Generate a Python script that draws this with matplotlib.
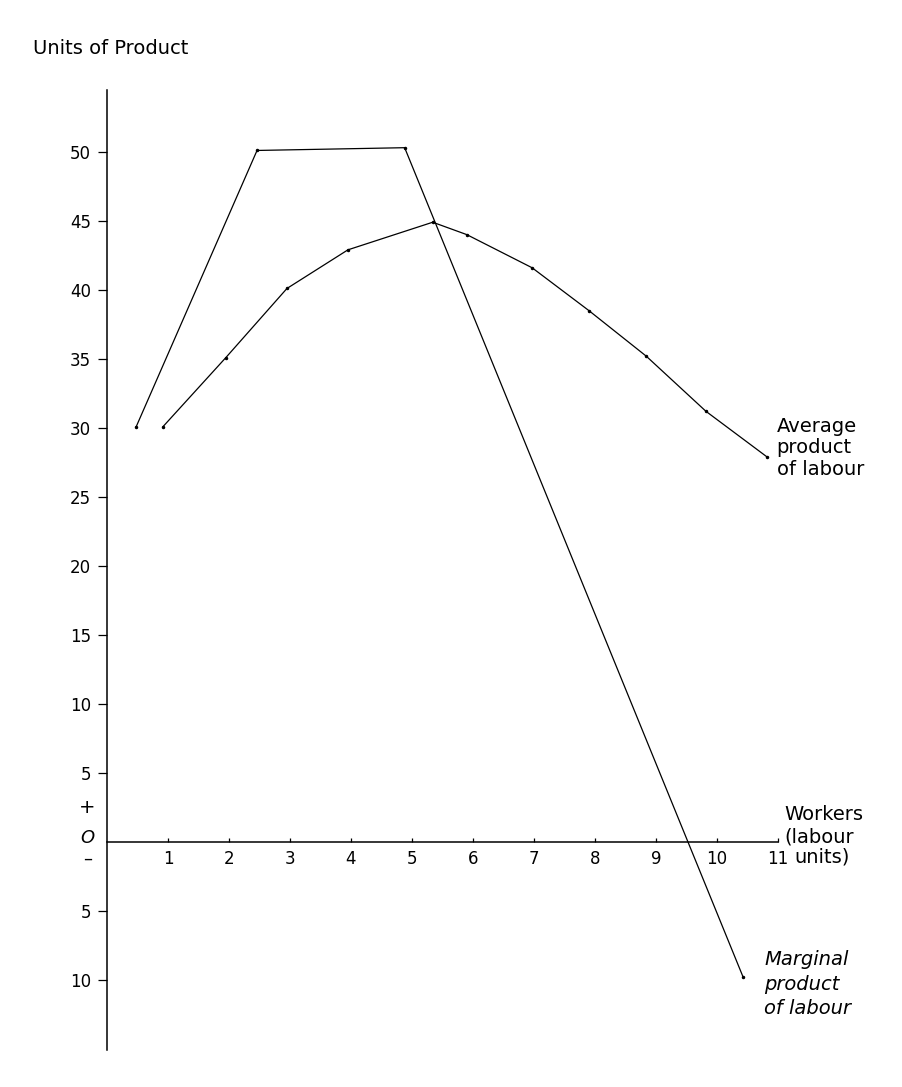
import matplotlib
matplotlib.use('Agg')
import matplotlib.pyplot as plt

# marginal product of labour (hand drawn kinks)
mp_x = [0.48, 2.46, 4.88, 10.43]
mp_y = [30.1, 50.1, 50.3, -9.8]

# average product of labour
ap_x = [0.92, 1.95, 2.95, 3.95, 5.34, 5.9, 6.97, 7.9, 8.84, 9.82, 10.82]
ap_y = [30.1, 35.1, 40.1, 42.9, 44.9, 44.0, 41.6, 38.5, 35.2, 31.2, 27.9]

x_ticks = [1, 2, 3, 4, 5, 6, 7, 8, 9, 10, 11]
y_ticks = [50, 45, 40, 35, 30, 25, 20, 15, 10, 5, -5, -10]
y_labels = ['50', '45', '40', '35', '30', '25', '20', '15', '10', '5', '5', '10']

plt.rcParams['font.family'] = ['DejaVu Sans']

fig = plt.figure(figsize=(9.03, 10.87), dpi=100)
ax = fig.add_axes([0, 0, 1, 1])
ax.set_xlim(-1.754, 13.05)
ax.set_ylim(-17.75, 61.0)

for s in ['top', 'right']:
    ax.spines[s].set_visible(False)
ax.spines['left'].set_position(('data', 0))
ax.spines['bottom'].set_position(('data', 0))
ax.spines['left'].set_bounds(-15.1, 54.5)
ax.spines['bottom'].set_bounds(0, 11)
ax.spines['left'].set_linewidth(1.1)
ax.spines['bottom'].set_linewidth(1.1)

ax.set_xticks(x_ticks)
ax.set_xticklabels([str(t) for t in x_ticks])
ax.set_yticks(y_ticks)
ax.set_yticklabels(y_labels)
ax.tick_params(axis='y', direction='out', length=6.5, width=0.9, pad=5, labelsize=12)
ax.tick_params(axis='x', direction='in', length=3, width=0.9, pad=6, labelsize=12)

ax.plot(mp_x, mp_y, color='black', lw=0.9, marker='.', markersize=3)
ax.plot(ap_x, ap_y, color='black', lw=0.9, marker='.', markersize=3)

# signs around zero on the vertical axis
ax.annotate('+', xy=(0, 0), xytext=(-14, 25), textcoords='offset points',
            ha='center', va='center', fontsize=14)
ax.annotate('O', xy=(0, 0), xytext=(-14, 3), textcoords='offset points',
            ha='center', va='center', fontsize=13, style='italic')
ax.annotate('–', xy=(0, 0), xytext=(-14, -12), textcoords='offset points',
            ha='center', va='center', fontsize=13)

fig.text(33 / 903, 1 - 49 / 1087, 'Units of Product', ha='left', va='center',
         fontsize=14)
ax.annotate('Average\nproduct\nof labour', xy=(ap_x[-1], ap_y[-1]), xytext=(7, 6.5),
            textcoords='offset points', ha='left', va='center', fontsize=14,
            linespacing=1.17)
ax.annotate('Workers\n(labour', xy=(11, 0), xytext=(4.3, 12),
            textcoords='offset points', ha='left', va='center', fontsize=14,
            linespacing=1.23)
ax.annotate('units)', xy=(11, 0), xytext=(11.5, -10.8),
            textcoords='offset points', ha='left', va='center', fontsize=14)
ax.annotate('Marginal\nproduct\nof labour', xy=(mp_x[-1], mp_y[-1]), xytext=(15, -5),
            textcoords='offset points', ha='left', va='center', fontsize=14,
            style='italic', linespacing=1.37)

fig.savefig('out.png', dpi=100)
